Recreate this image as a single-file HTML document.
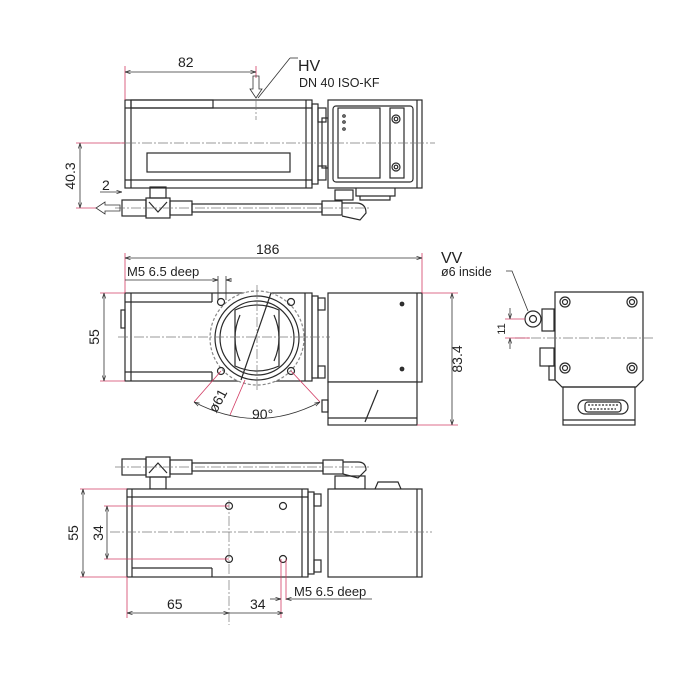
<!DOCTYPE html>
<html><head><style>
html,body{margin:0;padding:0;background:#fff;}
svg{display:block;}
text{font-family:"Liberation Sans",sans-serif;fill:#222;}
</style></head><body>
<svg width="700" height="700" viewBox="0 0 700 700" xmlns="http://www.w3.org/2000/svg">
<defs>
<marker id="a" viewBox="0 0 10 10" refX="10" refY="5" markerWidth="7" markerHeight="7" orient="auto-start-reverse"><path d="M0,2 L10,5 L0,8" fill="none" stroke="#333" stroke-width="1.2"/></marker>
</defs>
<g stroke="#2a2a2a" stroke-width="1.2" fill="none">
<!-- ============ TOP VIEW ============ -->
<rect x="125" y="100" width="187" height="88" fill="#fff"/>
<line x1="125" y1="108" x2="312" y2="108"/>
<line x1="125" y1="180" x2="312" y2="180"/>
<line x1="131" y1="100" x2="131" y2="188"/>
<line x1="306" y1="100" x2="306" y2="188"/>
<rect x="131" y="100" width="82" height="8"/>
<rect x="147" y="153" width="143" height="19"/>
<rect x="312" y="104" width="6" height="80"/>
<rect x="318" y="108" width="8" height="14"/><rect x="318" y="166" width="8" height="14"/>
<rect x="322" y="118" width="6" height="50"/>
<rect x="328" y="100" width="94" height="88" fill="#fff"/>
<line x1="417" y1="100" x2="417" y2="188"/>
<rect x="333" y="106" width="80" height="76" rx="3"/>
<rect x="338" y="108" width="42" height="70"/>
<rect x="390" y="108" width="14" height="70"/>
<circle cx="396" cy="119" r="4"/><circle cx="396" cy="119" r="1.8"/>
<circle cx="396" cy="167" r="4"/><circle cx="396" cy="167" r="1.8"/>
<circle cx="344" cy="116" r="1.2"/><circle cx="344" cy="122" r="1.2"/><circle cx="344" cy="129" r="1.2"/>
<path d="M356,188 L356,196 L395,196 L395,188 M360,196 L360,200 L390,200 L390,196"/>
<!-- pipe -->
<rect x="122" y="200" width="24" height="16"/>
<rect x="146" y="198" width="24" height="20"/>
<rect x="150" y="187" width="16" height="11"/>
<path d="M149,202 L158,212 L167,202"/>
<rect x="170" y="201" width="22" height="14"/>
<rect x="192" y="204" width="130" height="8"/>
<rect x="322" y="201" width="20" height="14"/>
<path d="M342,203 L356,203 Q366,203 366,213 L360,220 L342,216"/>
<rect x="335" y="190" width="18" height="10"/>
<!-- ============ FRONT VIEW ============ -->
<rect x="125" y="293" width="187" height="88" fill="#fff"/>
<line x1="131" y1="293" x2="131" y2="381"/>
<line x1="125" y1="302" x2="212" y2="302"/><line x1="212" y1="293" x2="212" y2="302"/>
<line x1="125" y1="372" x2="212" y2="372"/><line x1="212" y1="372" x2="212" y2="381"/>
<line x1="305" y1="293" x2="305" y2="381"/>
<rect x="121" y="310" width="4" height="18"/>
<circle cx="257" cy="338" r="47" stroke-dasharray="3,2" stroke="#888" fill="#fff"/>
<circle cx="257" cy="338" r="42"/>
<circle cx="257" cy="338" r="37"/>
<path d="M235,310 Q257,300 279,310 L279,366 Q257,376 235,366 Z"/>
<path d="M240,315 Q230,338 240,361"/><path d="M274,315 Q284,338 274,361"/>
<circle cx="221" cy="302" r="3.5"/><circle cx="291" cy="302" r="3.5"/>
<circle cx="221" cy="371" r="3.5"/><circle cx="291" cy="371" r="3.5"/>
<line x1="271" y1="293" x2="241" y2="380"/>
<rect x="312" y="296" width="6" height="82"/>
<rect x="318" y="298" width="7" height="12"/><rect x="318" y="366" width="7" height="12"/>
<rect x="328" y="293" width="94" height="89" fill="#fff"/>
<line x1="417" y1="293" x2="417" y2="382"/>
<circle cx="402" cy="304" r="1.8" fill="#333"/><circle cx="402" cy="369" r="1.8" fill="#333"/>
<rect x="328" y="382" width="89" height="43" fill="#fff"/>
<line x1="328" y1="418" x2="417" y2="418"/>
<line x1="378" y1="390" x2="365" y2="422"/>
<rect x="322" y="400" width="6" height="12"/>
<!-- ============ SIDE VIEW ============ -->
<path d="M555,292 L643,292 L643,380 L636,387 L562,387 L555,380 Z" fill="#fff"/>
<rect x="563" y="387" width="72" height="38"/>
<line x1="563" y1="420" x2="635" y2="420"/>
<g>
<circle cx="565" cy="302" r="5"/><circle cx="565" cy="302" r="2.5"/>
<circle cx="632" cy="302" r="5"/><circle cx="632" cy="302" r="2.5"/>
<circle cx="565" cy="368" r="5"/><circle cx="565" cy="368" r="2.5"/>
<circle cx="632" cy="368" r="5"/><circle cx="632" cy="368" r="2.5"/>
</g>
<rect x="578" y="400" width="50" height="14" rx="7"/>
<rect x="585" y="402" width="36" height="10" rx="3"/>
<path d="M588,405 h30 M590,409 h26" stroke-dasharray="2,1.5"/>
<circle cx="533" cy="319" r="8"/><circle cx="533" cy="319" r="3.5"/>
<rect x="542" y="309" width="12" height="22"/>
<rect x="540" y="348" width="14" height="18"/>
<rect x="549" y="366" width="6" height="14"/>
<!-- ============ BOTTOM VIEW ============ -->
<rect x="122" y="459" width="24" height="16"/>
<rect x="146" y="457" width="24" height="20"/>
<rect x="150" y="477" width="16" height="12"/>
<path d="M149,473 L158,463 L167,473"/>
<rect x="170" y="460" width="22" height="14"/>
<rect x="192" y="463" width="131" height="8"/>
<rect x="323" y="460" width="20" height="14"/>
<path d="M343,462 L358,462 Q366,462 366,470 L358,478 L343,474"/>
<rect x="335" y="476" width="30" height="13"/>
<rect x="127" y="489" width="181" height="88" fill="#fff"/>
<line x1="132" y1="489" x2="132" y2="577"/>
<line x1="127" y1="497" x2="308" y2="497"/>
<line x1="132" y1="568" x2="212" y2="568"/><line x1="212" y1="568" x2="212" y2="577"/>
<line x1="302" y1="489" x2="302" y2="577"/>
<circle cx="229" cy="506" r="3.5"/><circle cx="283" cy="506" r="3.5"/>
<circle cx="229" cy="559" r="3.5"/><circle cx="283" cy="559" r="3.5"/>
<rect x="308" y="492" width="6" height="82"/>
<rect x="314" y="494" width="7" height="12"/><rect x="314" y="560" width="7" height="12"/>
<rect x="328" y="489" width="94" height="88" fill="#fff"/>
<line x1="417" y1="489" x2="417" y2="577"/>
<path d="M375,489 L378,482 L398,482 L401,489"/>
</g>
<!-- centerlines -->
<g stroke="#777" stroke-width="0.7" stroke-dasharray="10,2,2,2" fill="none">
<line x1="110" y1="143" x2="435" y2="143"/>
<line x1="256" y1="100" x2="256" y2="120"/>
<line x1="115" y1="208" x2="370" y2="208"/>
<line x1="118" y1="337" x2="330" y2="337"/>
<line x1="257" y1="285" x2="257" y2="390"/>
<line x1="515" y1="338" x2="655" y2="338"/>
<line x1="110" y1="532" x2="432" y2="532"/>
<line x1="115" y1="467" x2="370" y2="467"/>
<line x1="229" y1="500" x2="229" y2="625"/>
</g>
<!-- red extension lines -->
<g stroke="#d23c64" stroke-width="0.8" fill="none">
<line x1="125" y1="66" x2="125" y2="100"/><line x1="256" y1="66" x2="256" y2="78"/>
<line x1="76" y1="143" x2="125" y2="143"/><line x1="76" y1="208" x2="96" y2="208"/>
<line x1="125" y1="253" x2="125" y2="293"/><line x1="422" y1="253" x2="422" y2="293"/>
<line x1="100" y1="293" x2="125" y2="293"/><line x1="100" y1="381" x2="125" y2="381"/>
<line x1="422" y1="293" x2="458" y2="293"/><line x1="417" y1="425" x2="458" y2="425"/>
<line x1="221" y1="371" x2="194" y2="402"/><line x1="291" y1="371" x2="320" y2="402"/>
<line x1="245" y1="380" x2="230" y2="415"/>
<line x1="505" y1="319" x2="525" y2="319"/><line x1="505" y1="338" x2="530" y2="338"/>
<line x1="80" y1="489" x2="127" y2="489"/><line x1="80" y1="577" x2="127" y2="577"/>
<line x1="104" y1="506" x2="229" y2="506"/><line x1="104" y1="559" x2="229" y2="559"/>
<line x1="127" y1="577" x2="127" y2="618"/>
<line x1="281" y1="559" x2="281" y2="618"/><line x1="286" y1="559" x2="286" y2="600"/>
</g>
<!-- dimension lines -->
<g stroke="#333" stroke-width="0.8" fill="none">
<line x1="125" y1="72" x2="256" y2="72" marker-start="url(#a)" marker-end="url(#a)"/>
<line x1="80" y1="143" x2="80" y2="208" marker-start="url(#a)" marker-end="url(#a)"/>
<line x1="100" y1="192" x2="122" y2="192" marker-end="url(#a)"/>
<line x1="290" y1="58" x2="258" y2="98"/><line x1="290" y1="58" x2="298" y2="58"/>
<path d="M253,76 L259,76 L259,89 L262,89 L256,98 L250,89 L253,89 Z" stroke="#333"/>
<path d="M120,205 L105,205 L105,202 L96,208 L105,214 L105,211 L120,211 Z" stroke="#333"/>
<line x1="125" y1="258" x2="422" y2="258" marker-start="url(#a)" marker-end="url(#a)"/>
<line x1="125" y1="280" x2="213" y2="280"/>
<line x1="213" y1="280" x2="218" y2="280" marker-end="url(#a)"/>
<line x1="232" y1="280" x2="226" y2="280" marker-end="url(#a)"/>
<line x1="218" y1="276" x2="218" y2="300"/><line x1="226" y1="276" x2="226" y2="300"/>
<line x1="104" y1="293" x2="104" y2="381" marker-start="url(#a)" marker-end="url(#a)"/>
<line x1="452" y1="293" x2="452" y2="425" marker-start="url(#a)" marker-end="url(#a)"/>
<path d="M194,402 Q257,435 320,402" marker-start="url(#a)" marker-end="url(#a)"/>
<path d="M506,271 L512,271 L528,311"/>
<line x1="510" y1="308" x2="510" y2="319" marker-end="url(#a)"/>
<line x1="510" y1="349" x2="510" y2="338" marker-end="url(#a)"/>
<line x1="83" y1="489" x2="83" y2="577" marker-start="url(#a)" marker-end="url(#a)"/>
<line x1="107" y1="506" x2="107" y2="559" marker-start="url(#a)" marker-end="url(#a)"/>
<line x1="127" y1="613" x2="229" y2="613" marker-start="url(#a)" marker-end="url(#a)"/>
<line x1="229" y1="613" x2="283" y2="613" marker-end="url(#a)"/>
<line x1="270" y1="599" x2="281" y2="599" marker-end="url(#a)"/>
<line x1="372" y1="599" x2="286" y2="599" marker-end="url(#a)"/>
</g>
<!-- text -->
<text x="178" y="67" font-size="14">82</text>
<text x="298" y="71" font-size="16">HV</text>
<text x="299" y="87" font-size="12.5">DN 40 ISO-KF</text>
<text x="102" y="190" font-size="14">2</text>
<text transform="translate(75,176) rotate(-90)" font-size="14" text-anchor="middle">40.3</text>
<text x="256" y="254" font-size="14">186</text>
<text x="127" y="276" font-size="13">M5  6.5 deep</text>
<text transform="translate(99,337) rotate(-90)" font-size="14" text-anchor="middle">55</text>
<text transform="translate(462,359) rotate(-90)" font-size="14" text-anchor="middle">83.4</text>
<text transform="translate(222,403) rotate(-62)" font-size="14" text-anchor="middle">ø61</text>
<text x="252" y="419" font-size="14">90°</text>
<text x="441" y="263" font-size="16">VV</text>
<text x="441" y="276" font-size="12.5">ø6 inside</text>
<text transform="translate(505,329) rotate(-90)" font-size="11" text-anchor="middle">11</text>
<text transform="translate(78,533) rotate(-90)" font-size="14" text-anchor="middle">55</text>
<text transform="translate(103,533) rotate(-90)" font-size="14" text-anchor="middle">34</text>
<text x="167" y="609" font-size="14">65</text>
<text x="250" y="609" font-size="14">34</text>
<text x="294" y="596" font-size="13">M5  6.5 deep</text>
</svg>
</body></html>
